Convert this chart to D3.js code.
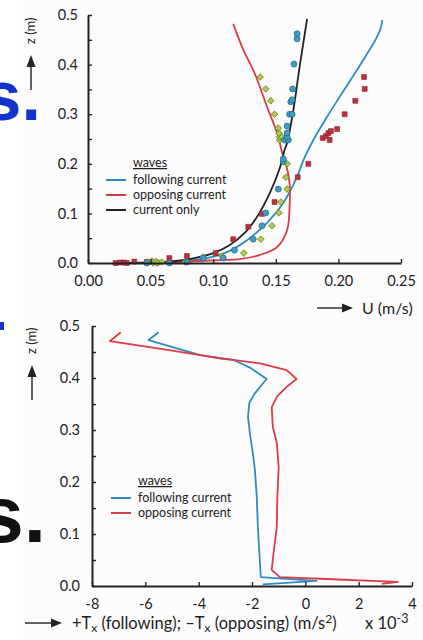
<!DOCTYPE html>
<html>
<head>
<meta charset="utf-8">
<script src="https://cdn.jsdelivr.net/npm/d3@7"></script>
<style>
  body { margin: 0; background: #fff; }
  svg { display: block; }
  text { font-family: Lato, "Open Sans", sans-serif; fill: #222; }
</style>
</head>
<body>
<svg id="fig" width="423" height="640"></svg>
<script>
// ---------- Upper panel: mean velocity profiles U(z) ----------
const followU = [0.045, 0.07, 0.095, 0.111, 0.127, 0.143, 0.156, 0.167, 0.1725, 0.180, 0.191, 0.201, 0.212, 0.222, 0.230, 0.234, 0.235];
const followZ = [0.0, 0.003, 0.01, 0.022, 0.046, 0.081, 0.121, 0.174, 0.21, 0.248, 0.295, 0.335, 0.378, 0.418, 0.452, 0.475, 0.49];

const opposeU = [0.03, 0.07, 0.105, 0.121, 0.137, 0.151, 0.159, 0.161, 0.161, 0.159, 0.156, 0.151, 0.143, 0.133, 0.124, 0.116];
const opposeZ = [0.0, 0.002, 0.006, 0.008, 0.016, 0.032, 0.066, 0.113, 0.161, 0.19, 0.214, 0.262, 0.315, 0.383, 0.43, 0.482];

const currentU = [0.03, 0.05, 0.07, 0.085, 0.10, 0.113, 0.125, 0.135, 0.145, 0.153, 0.157, 0.159, 0.164, 0.169, 0.175];
const currentZ = [0.0, 0.001, 0.004, 0.010, 0.020, 0.036, 0.06, 0.093, 0.14, 0.19, 0.228, 0.242, 0.308, 0.395, 0.492];

// measured points: following current (circles)
const measFollowU = [0.047, 0.065, 0.079, 0.092, 0.108, 0.117, 0.132, 0.139, 0.142, 0.152, 0.156, 0.156, 0.157, 0.160, 0.159, 0.159, 0.159, 0.161, 0.163, 0.162, 0.163, 0.1635, 0.1645, 0.167, 0.167];
const measFollowZ = [0.0, 0.0, 0.002, 0.01, 0.01, 0.026, 0.048, 0.075, 0.101, 0.149, 0.204, 0.21, 0.248, 0.248, 0.254, 0.262, 0.276, 0.30, 0.30, 0.325, 0.329, 0.351, 0.401, 0.452, 0.462];

// measured points: current only (squares)
const measCurrentU = [0.022, 0.026, 0.029, 0.031, 0.037, 0.047, 0.065, 0.079, 0.102, 0.116, 0.128, 0.139, 0.149, 0.1675, 0.176, 0.1875, 0.190, 0.192, 0.194, 0.193, 0.199, 0.205, 0.2135, 0.221, 0.2205];
const measCurrentZ = [0.0, 0.001, 0.001, 0.0, 0.003, 0.002, 0.01, 0.014, 0.02, 0.048, 0.073, 0.099, 0.123, 0.173, 0.2, 0.252, 0.256, 0.262, 0.266, 0.248, 0.27, 0.30, 0.327, 0.351, 0.375];

// measured points: opposing current (diamonds)
const measOpposeU = [0.048, 0.051, 0.052, 0.054, 0.056, 0.059, 0.055, 0.0775, 0.092, 0.107, 0.1245, 0.138, 0.147, 0.1525, 0.154, 0.159, 0.158, 0.159, 0.153, 0.153, 0.155, 0.1525, 0.152, 0.149, 0.146, 0.142, 0.1375];
const measOpposeZ = [0.002, 0.004, 0.0, 0.003, 0.001, 0.002, 0.0, 0.002, 0.012, 0.014, 0.02, 0.048, 0.075, 0.101, 0.123, 0.149, 0.173, 0.2, 0.248, 0.254, 0.254, 0.262, 0.272, 0.30, 0.327, 0.351, 0.375];

const uTicks = [0, 0.05, 0.10, 0.15, 0.20, 0.25];
const zTicks = [0, 0.05, 0.1, 0.15, 0.2, 0.25, 0.3, 0.35, 0.4, 0.45, 0.5];

// ---------- Lower panel: force term Tx(z) ----------
const tFollowT = [-5.5, -5.88, -3.94, -3.2, -2.71, -2.08, -1.45, -1.63, -1.9, -2.1, -2.15, -2.08, -1.97, -1.89, -1.82, -1.78, -1.72, -1.67, 0.42, -1.6];
const tFollowZ = [0.488, 0.473, 0.444, 0.438, 0.435, 0.42, 0.398, 0.387, 0.37, 0.352, 0.325, 0.294, 0.256, 0.223, 0.17, 0.113, 0.06, 0.017, 0.01, 0.003];

const tOpposeT = [-6.92, -7.33, -5.17, -3.94, -3.2, -2.71, -1.7, -0.7, -0.33, -0.7, -1.05, -1.26, -1.22, -1.07, -1.0, -1.05, -1.07, -1.2, -1.26, -0.96, 1.01, 2.5, 3.47, 2.87];
const tOpposeZ = [0.488, 0.471, 0.454, 0.444, 0.438, 0.435, 0.428, 0.415, 0.398, 0.383, 0.365, 0.344, 0.306, 0.275, 0.229, 0.17, 0.113, 0.06, 0.031, 0.017, 0.013, 0.01, 0.008, 0.004];

const tTicks = [-8, -6, -4, -2, 0, 2, 4];

const legendTop = ["following current", "opposing current", "current only"];
const legendBottom = ["following current", "opposing current"];

const BLUE = "#2f8bbf", RED = "#dc3a44", BLACK = "#222";

const svg = d3.select("#fig");
svg.append("rect").attr("width", 423).attr("height", 640).attr("fill", "#fff");
svg.append("rect").attr("x", 23).attr("width", 400).attr("height", 640).attr("fill", "#fcfcfc");

// slide lettering behind the figure
svg.append("text").attr("x", 41).attr("y", 120).attr("text-anchor", "end")
  .style("font-family", "'Liberation Sans', Arial, sans-serif").style("font-weight", "bold")
  .style("font-size", "70px").style("fill", "#1234cc").text("s.");
svg.append("text").attr("x", 46).attr("y", 542).attr("text-anchor", "end")
  .style("font-family", "'Liberation Sans', Arial, sans-serif").style("font-weight", "bold")
  .style("font-size", "80px").style("fill", "#111").text("s.");
svg.append("rect").attr("x", 0).attr("y", 322).attr("width", 4).attr("height", 8).attr("fill", "#1234cc");

const zip = (a, b) => a.map((v, i) => [v, b[i]]);

function styleAxis(g) {
  g.select(".domain").attr("stroke", BLACK).attr("stroke-width", 2);
  g.selectAll(".tick line").attr("stroke", BLACK).attr("stroke-width", 1.4);
  g.selectAll(".tick text").style("font-size", "14.5px").style("font-family", "Lato, sans-serif").attr("fill", "#1e1e1e");
}

// vertical "z (m)" label with an upward arrow beneath it
function zLabel(cx, yTop) {
  svg.append("text").attr("transform", `translate(${cx + 4},${yTop + 36}) rotate(-90)`)
    .attr("text-anchor", "start").style("font-size", "13px").text("z (m)");
  svg.append("line").attr("x1", cx).attr("x2", cx).attr("y1", yTop + 82).attr("y2", yTop + 56)
    .attr("stroke", BLACK).attr("stroke-width", 1.4);
  svg.append("path").attr("d", `M${cx - 4.5},${yTop + 59} L${cx},${yTop + 47} L${cx + 4.5},${yTop + 59} Z`).attr("fill", BLACK);
}

function rightArrow(x0, x1, y) {
  svg.append("line").attr("x1", x0).attr("x2", x1 - 6).attr("y1", y).attr("y2", y)
    .attr("stroke", BLACK).attr("stroke-width", 1.4);
  svg.append("path").attr("d", `M${x1 - 11},${y - 4.5} L${x1},${y} L${x1 - 11},${y + 4.5} Z`).attr("fill", BLACK);
}

function legend(x, y, names, colors) {
  const g = svg.append("g");
  g.append("text").attr("x", x + 27).attr("y", y).style("font-size", "12.5px")
    .style("text-decoration", "underline").text("waves");
  names.forEach((n, i) => {
    const yy = y + 17 + i * 15;
    g.append("line").attr("x1", x).attr("x2", x + 20).attr("y1", yy - 4).attr("y2", yy - 4)
      .attr("stroke", colors[i]).attr("stroke-width", 2);
    g.append("text").attr("x", x + 27).attr("y", yy).style("font-size", "12.5px").text(n);
  });
}

// ===== upper panel =====
const xU = d3.scaleLinear().domain([0, 0.25]).range([88, 401]);
const yU = d3.scaleLinear().domain([0, 0.5]).range([263, 15]);

const lineU = d3.line().x(d => xU(d[0])).y(d => yU(d[1])).curve(d3.curveCatmullRom.alpha(0.5));
[[followU, followZ, BLUE], [opposeU, opposeZ, RED], [currentU, currentZ, BLACK]].forEach(([u, z, c]) => {
  svg.append("path").datum(zip(u, z)).attr("d", lineU).attr("fill", "none")
    .attr("stroke", c).attr("stroke-width", 1.8);
});

svg.append("g").selectAll("path").data(zip(measCurrentU, measCurrentZ)).join("path")
  .attr("transform", d => `translate(${xU(d[0])},${yU(d[1])})`)
  .attr("d", d3.symbol(d3.symbolSquare, 24)())
  .attr("fill", "#b8323f").attr("stroke", "#8c1e2a").attr("stroke-width", 0.6);
svg.append("g").selectAll("path").data(zip(measOpposeU, measOpposeZ)).join("path")
  .attr("transform", d => `translate(${xU(d[0])},${yU(d[1])}) rotate(45)`)
  .attr("d", d3.symbol(d3.symbolSquare, 22)())
  .attr("fill", "#a9cc4c").attr("stroke", "#7b7a2e").attr("stroke-width", 0.8);
svg.append("g").selectAll("circle").data(zip(measFollowU, measFollowZ)).join("circle")
  .attr("cx", d => xU(d[0])).attr("cy", d => yU(d[1])).attr("r", 3)
  .attr("fill", "#3e9ec2").attr("stroke", "#24647c").attr("stroke-width", 0.7);

svg.append("g").attr("transform", "translate(0,263)")
  .call(d3.axisBottom(xU).tickValues(uTicks).tickFormat(d3.format(".2f"))
    .tickSizeInner(-4).tickSizeOuter(0).tickPadding(13))
  .call(styleAxis);
svg.append("g").attr("transform", "translate(88,0)")
  .call(d3.axisLeft(yU).tickValues(zTicks)
    .tickFormat(d => Math.round(d * 100) % 10 === 0 ? d3.format(".1f")(d) : "")
    .tickSizeInner(-4).tickSizeOuter(0).tickPadding(10))
  .call(styleAxis);

zLabel(31, 8);
rightArrow(317, 353, 308);
svg.append("text").attr("x", 362).attr("y", 314).style("font-size", "16px").text("U (m/s)");
legend(106, 167, legendTop, [BLUE, RED, BLACK]);

// ===== lower panel =====
const xT = d3.scaleLinear().domain([-8, 4]).range([92, 412]);
const yT = d3.scaleLinear().domain([0, 0.5]).range([586, 326]);

const lineT = d3.line().x(d => xT(d[0])).y(d => yT(d[1]));
[[tFollowT, tFollowZ, BLUE], [tOpposeT, tOpposeZ, RED]].forEach(([t, z, c]) => {
  svg.append("path").datum(zip(t, z)).attr("d", lineT).attr("fill", "none")
    .attr("stroke", c).attr("stroke-width", 1.8).attr("stroke-linejoin", "round");
});

svg.append("g").attr("transform", "translate(0,586)")
  .call(d3.axisBottom(xT).tickValues(tTicks).tickFormat(d => String(d))
    .tickSizeInner(-4).tickSizeOuter(0).tickPadding(13))
  .call(styleAxis);
svg.append("g").attr("transform", "translate(92,0)")
  .call(d3.axisLeft(yT).tickValues(zTicks)
    .tickFormat(d => Math.round(d * 100) % 10 === 0 ? d3.format(".1f")(d) : "")
    .tickSizeInner(-4).tickSizeOuter(0).tickPadding(12))
  .call(styleAxis);

zLabel(32, 318);
legend(111, 485, legendBottom, [BLUE, RED]);

rightArrow(25, 62, 623);
const xl = svg.append("text").attr("x", 72).attr("y", 629).style("font-size", "16.5px");
xl.append("tspan").text("+T");
xl.append("tspan").attr("dy", 3).style("font-size", "12px").text("x");
xl.append("tspan").attr("dy", -3).text(" (following); \u2013T");
xl.append("tspan").attr("dy", 3).style("font-size", "12px").text("x");
xl.append("tspan").attr("dy", -3).text(" (opposing) (m/s");
xl.append("tspan").attr("dy", -6).style("font-size", "12px").text("2");
xl.append("tspan").attr("dy", 6).text(")");
const xm = svg.append("text").attr("x", 365).attr("y", 629).style("font-size", "16.5px");
xm.append("tspan").text("x 10");
xm.append("tspan").attr("dy", -6).style("font-size", "12.5px").text("-3");
</script>
</body>
</html>
